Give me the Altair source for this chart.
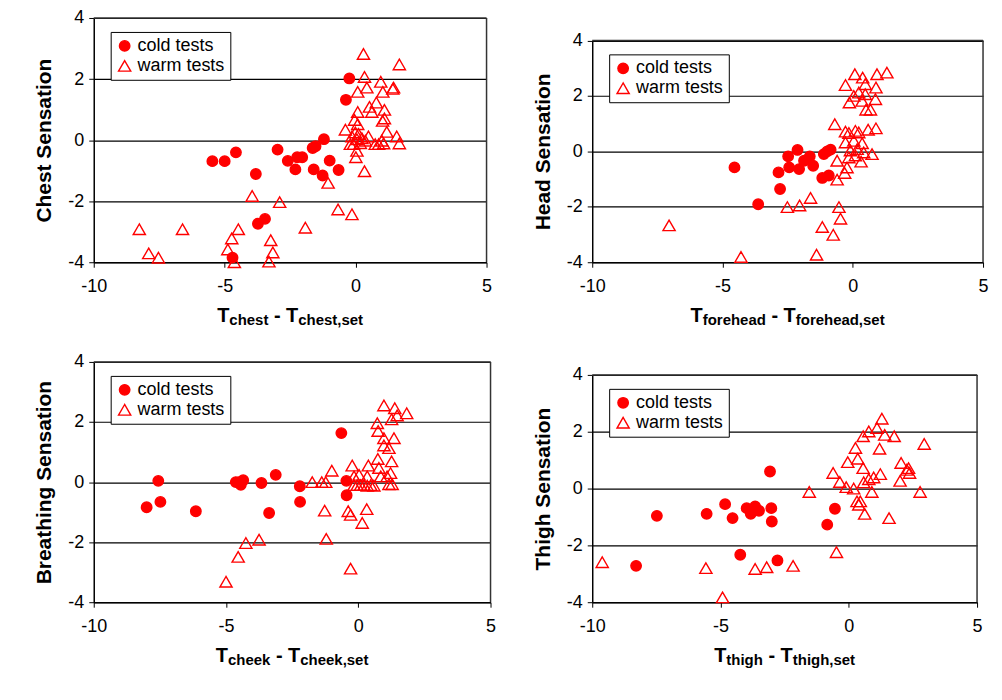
import altair as alt
import pandas as pd

# ---------------- data ----------------
TYPES = ["cold tests", "warm tests"]

chest_cold_x = [-5.47, -5.0, -4.57, -3.81, -3.73, -3.46, -4.7, -2.98, -2.59, -2.23, -2.04, -2.30,
                -1.64, -1.53, -1.21, -1.6, -1.26, -0.99, -0.65, -0.37, -0.24]
chest_cold_y = [-0.69, -0.69, -0.40, -1.11, -2.74, -2.58, -3.85, -0.31, -0.68, -0.56, -0.56, -0.96,
                -0.26, -0.2, 0.03, -0.96, -1.16, -0.67, -0.98, 1.32, 2.02]
chest_warm_x = [-8.26, -7.9, -7.53, -6.61, -3.95, -2.9, -4.48, -4.73, -4.88, -4.63, -3.24, -3.16,
                -3.31, -1.92, -1.05, -0.67, -0.14, 0.34, 0.01, 0.05, 0.3, 1.67, 0.34, 0.43, 0.08,
                0.96, 1.04, 1.45, 1.42, 0.79, 0.53, 0.62, 1.10, 1.10, 1.03, 0.08, -0.04, 0.08, -0.39,
                1.19, 1.57, 1.67, -0.14, -0.01, 0.11, 0.24, 0.37, 0.49, -0.08, 0.18, 0.05, 0.75,
                0.88, 1.07, 1.0, -0.2]
chest_warm_y = [-2.92, -3.71, -3.85, -2.92, -1.83, -2.03, -2.92, -3.22, -3.58, -4.0, -3.28, -3.68,
                -3.98, -2.87, -1.40, -2.27, -2.43, -1.02, -0.56, -0.35, 2.82, 2.48, 2.07, 1.72, 1.58,
                1.91, 1.58, 1.72, 1.68, 1.23, 1.09, 0.92, 0.99, 0.71, 0.63, 0.92, 0.66, 0.52, 0.34,
                0.27, 0.12, -0.11, 0.12, 0.25, 0.2, 0.06, -0.02, 0.12, -0.13, -0.1, 0.03, -0.13,
                -0.13, -0.11, -0.02, -0.13]

head_cold_x = [-4.54, -3.63, -2.85, -2.79, -2.48, -2.44, -2.12, -2.06, -1.87, -1.65, -1.52, -1.11,
               -0.98, -0.85, -1.17, -0.92]
head_cold_y = [-0.58, -1.91, -0.76, -1.36, -0.18, -0.58, 0.05, -0.64, -0.34, -0.18, -0.52, -0.1,
               0.0, 0.06, -0.96, -0.87]
head_warm_x = [-7.05, -4.29, -2.51, -2.04, -1.62, -1.17, -0.75, -1.39, -0.53, -0.47, -0.6, -0.31,
               -0.22, -0.6, -0.69, -0.28, -0.15, 0.1, 0.23, 0.59, 0.89, -0.28, 0.04, 0.36, -0.09,
               0.17, 0.42, 0.74, -0.15, 0.1, 0.32, -0.28, 0.08, 0.38, 0.48, 0.93, 1.31, 0.89, 0.04,
               0.23, 0.48, -0.13, 0.36, 0.87, 0.51, 0.68]
head_warm_y = [-2.67, -3.81, -2.01, -1.95, -1.68, -2.73, -3.01, -3.73, -2.01, -2.43, -1.02, -0.78,
               -0.58, -0.34, 0.98, 0.71, 0.66, 0.74, 0.68, 0.78, 0.83, 0.32, 0.38, 0.29, 0.03,
               0.08, -0.04, -0.1, -0.22, -0.15, -0.37, 2.39, 2.78, 2.66, 2.42, 2.78, 2.84, 2.3, 2.0,
               2.12, 2.06, 1.76, 1.82, 1.88, 1.5, 1.5]

cheek_cold_x = [-8.0, -7.56, -7.48, -6.14, -4.63, -4.5, -4.44, -4.35, -3.66, -3.37, -3.12, -2.21,
                -2.2, -0.64, -0.45, -0.44]
cheek_cold_y = [-0.84, 0.04, -0.66, -0.97, 0.0, 0.0, -0.09, 0.06, -0.03, -1.03, 0.24, -0.14,
                -0.66, 1.63, 0.04, -0.44]
cheek_warm_x = [-5.0, -4.54, -4.25, -3.75, -1.74, -1.38, -1.23, -1.0, -1.27, -1.21, -0.29, -0.38,
                -0.29, 0.15, 0.32, -0.23, -0.16, 0.03, 0.38, 0.34, -0.16, -0.04, 0.09, 0.22, 0.34,
                0.47, 0.59, 0.74, 0.78, 0.85, 1.09, 1.22, 1.16, 1.28, 1.26, 0.97, 1.35, 0.97, 1.16,
                0.72, 0.75, 0.97, 1.38, 1.47, 1.26, 1.83]
cheek_warm_y = [-3.32, -2.49, -2.03, -1.92, 0.0, 0.0, 0.0, 0.38, -0.95, -1.89, -2.88, -0.97,
                -1.09, -1.36, -0.9, 0.55, 0.19, 0.24, 0.55, 0.19, -0.1, -0.1, -0.1, -0.1, -0.12,
                -0.1, -0.12, 0.77, 0.47, 0.19, 0.19, 0.3, -0.07, -0.07, 0.69, 1.46, 1.46, 1.22, 1.13,
                1.96, 1.7, 2.55, 2.46, 2.22, 2.09, 2.29]

thigh_cold_x = [-8.29, -7.48, -5.54, -4.82, -4.53, -4.23, -3.98, -3.82, -3.65, -3.5, -3.02, -3.0,
                -3.07, -2.78, -0.54, -0.84]
thigh_cold_y = [-2.72, -0.96, -0.89, -0.55, -1.04, -2.33, -0.69, -0.89, -0.63, -0.78, -0.69, -1.16,
                0.6, -2.53, -0.71, -1.27]
thigh_warm_x = [-9.61, -5.57, -4.92, -3.65, -3.2, -2.17, -0.48, -1.54, -0.61, -0.35, -0.1, 0.19,
                -0.04, 0.26, 0.35, 0.56, 0.58, 0.78, 0.97, 1.23, 0.9, 0.32, 0.45, 0.39, 0.62, 1.57,
                0.56, 0.78, 1.1, 1.29, 1.4, 1.77, 1.2, 2.94, 2.04, 2.26, 2.37, 2.33, 2.0, 2.78]
thigh_warm_y = [-2.59, -2.8, -3.83, -2.83, -2.77, -2.72, -2.24, -0.12, 0.55, 0.23, 0.05, 0.0,
                0.93, 1.43, 1.05, 0.72, 0.22, 0.33, 0.39, 0.51, -0.12, -0.45, -0.45, -0.57, -0.89,
                -1.04, 1.84, 2.01, 2.13, 2.46, 1.89, 1.84, 1.4, 1.57, 0.9, 0.66, 0.55, 0.72, 0.27,
                -0.12]

x_ticks = [-10, -5, 0, 5]
y_ticks = [-4, -2, 0, 2, 4]
X_DOMAIN = [-10, 5]
Y_DOMAIN = [-4, 4]

# ---------------- styling ----------------
RED = "#ff0000"
FONT = "Liberation Sans"
BIG, SMALL = 20, 15
MINUS_FIX = "replace(datum.label, '\u2212', '-')"
BORDER = "#333333"

CHAR_W = {"T": .611, "-": .333, " ": .278, ",": .278, "a": .556, "c": .556, "d": .611,
          "e": .556, "f": .333, "g": .611, "h": .611, "i": .278, "k": .556, "o": .611,
          "r": .389, "s": .556, "t": .333}


def text_w(s, size):
    return sum(CHAR_W.get(ch, .556) for ch in s) * size


def txt(s, size, x, y, align="left"):
    return alt.Chart(alt.Data(values=[{}])).mark_text(
        text=s, fontSize=size, fontWeight="bold", font=FONT, align=align,
        baseline="alphabetic", color="black"
    ).encode(x=alt.value(x), y=alt.value(y))


def x_title(sub, width, height):
    sep = text_w(" - ", BIG)
    total = 2 * text_w("T", BIG) + text_w(sub, SMALL) + sep + text_w(sub + ",set", SMALL)
    x0 = width / 2 - total / 2
    yb = height + 60
    layers = []
    layers.append(txt("T", BIG, x0, yb)); x0 += text_w("T", BIG)
    layers.append(txt(sub, SMALL, x0, yb + 3)); x0 += text_w(sub, SMALL)
    layers.append(txt("-", BIG, x0 + sep / 2, yb, align="center")); x0 += sep
    layers.append(txt("T", BIG, x0, yb)); x0 += text_w("T", BIG)
    layers.append(txt(sub + ",set", SMALL, x0, yb + 3))
    return layers


def panel(cx, cy, wx, wy, ylabel, sub, width, height, top=0.0):
    df = pd.DataFrame({
        "x": cx + wx,
        "y": cy + wy,
        "type": [TYPES[0]] * len(cx) + [TYPES[1]] * len(wx),
    })
    leg = alt.Legend(title=None, orient="none", legendX=17, legendY=14 + top, padding=5,
                     strokeColor="black", fillColor="white", labelFontSize=18,
                     labelFont=FONT, labelColor="black",
                     symbolStrokeWidth=1.4, symbolStrokeColor=RED, rowPadding=2,
                     labelOffset=4)
    xs = alt.Scale(domain=X_DOMAIN, nice=False, zero=False)
    ys = alt.Scale(domain=Y_DOMAIN, nice=False, zero=False, range=[height, top])
    pts = alt.Chart(df).mark_point(filled=True, strokeWidth=1.4, opacity=1).encode(
        x=alt.X("x:Q", scale=xs,
                axis=alt.Axis(values=x_ticks, grid=False, title=None, labelFontSize=18,
                              labelFont=FONT, labelColor="black", tickSize=5, tickColor="black",
                              domainColor="black", domainWidth=1.5, labelPadding=10,
                              labelFlush=False, labelExpr=MINUS_FIX)),
        y=alt.Y("y:Q", scale=ys,
                axis=alt.Axis(values=y_ticks, grid=True, gridColor="black", gridWidth=1.2,
                              title=ylabel, titleFontSize=21, titleFont=FONT,
                              titleFontWeight="bold", titleColor="black", titlePadding=13,
                              labelFontSize=18, labelFont=FONT, labelColor="black",
                              tickSize=5, tickColor="black", domainColor="black",
                              domainWidth=1.5, labelPadding=5, labelFlush=False,
                              labelExpr=MINUS_FIX)),
        shape=alt.Shape("type:N", scale=alt.Scale(domain=TYPES, range=["circle", "triangle-up"]),
                        legend=leg),
        fill=alt.Fill("type:N", scale=alt.Scale(domain=TYPES, range=[RED, "transparent"]),
                      legend=leg),
        stroke=alt.Stroke("type:N", scale=alt.Scale(domain=TYPES, range=[RED, RED]),
                          legend=leg),
        size=alt.Size("type:N", scale=alt.Scale(domain=TYPES, range=[110, 150]), legend=leg),
    )
    border = alt.Chart(alt.Data(values=[{}]))
    top_line = border.mark_rule(color=BORDER, strokeWidth=1.5).encode(
        x=alt.datum(X_DOMAIN[0]), x2=alt.datum(X_DOMAIN[1]), y=alt.datum(Y_DOMAIN[1]))
    right_line = border.mark_rule(color=BORDER, strokeWidth=1.5).encode(
        x=alt.datum(X_DOMAIN[1]), y=alt.datum(Y_DOMAIN[0]), y2=alt.datum(Y_DOMAIN[1]))
    return alt.layer(pts, top_line, right_line, *x_title(sub, width, height)).properties(
        width=width, height=height)


p1 = panel(chest_cold_x, chest_cold_y, chest_warm_x, chest_warm_y, "Chest Sensation", "chest", 394, 245)
p2 = panel(head_cold_x, head_cold_y, head_warm_x, head_warm_y, "Head Sensation", "forehead", 392, 245, top=22.5)
p3 = panel(cheek_cold_x, cheek_cold_y, cheek_warm_x, cheek_warm_y, "Breathing Sensation", "cheek", 398, 241)
p4 = panel(thigh_cold_x, thigh_cold_y, thigh_warm_x, thigh_warm_y, "Thigh Sensation", "thigh", 386, 241, top=13)

ind = dict(shape="independent", fill="independent", stroke="independent", size="independent")
col1 = alt.vconcat(p1, p3, spacing=25).resolve_scale(**ind)
col2 = alt.vconcat(p2, p4, spacing=34).resolve_scale(**ind)

chart = alt.hconcat(col1, col2, spacing=35).resolve_scale(**ind).properties(
    padding={"left": 25, "top": 0, "right": 5, "bottom": 5},
    background="white",
).configure_view(strokeOpacity=0)

chart.save("out.html", embed_options={"renderer": "svg", "actions": False})
